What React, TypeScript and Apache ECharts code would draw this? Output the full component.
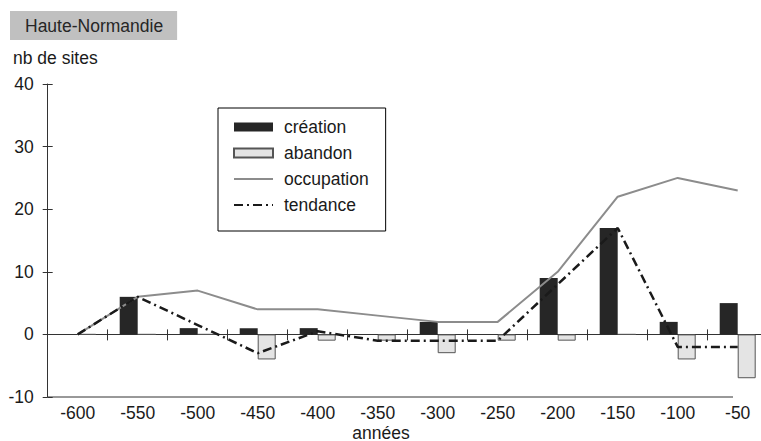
import React, { useEffect, useRef } from "react";
import * as echarts from "echarts";

const categories = ["-600", "-550", "-500", "-450", "-400", "-350", "-300", "-250", "-200", "-150", "-100", "-50"];
const creation = [0, 6, 1, 1, 1, 0, 2, 0, 9, 17, 2, 5];
const abandon = [0, 0, 0, -4, -1, -1, -3, -1, -1, 0, -4, -7];
const occupation = [0, 6, 7, 4, 4, 3, 2, 2, 10, 22, 25, 23];
const tendance = [0, 6, 1.5, -3, 0.5, -1, -1, -1, 8, 17, -2, -2];
const yMin = -10;
const yMax = 40;
const yInterval = 10;

const FONT = "'Liberation Sans', Arial, sans-serif";
const FS = 17.5;
const AXIS = "#333333";
const TXT = "#1a1a1a";

export default function App() {
  const ref = useRef<HTMLDivElement>(null);
  useEffect(() => {
    if (!ref.current) return;
    const chart = echarts.init(ref.current, null, { renderer: "svg" });
    const gridLeft = 47.7;
    const gridTop = 84;
    const gridHeight = 313;
    chart.setOption({
      animation: false,
      textStyle: { fontFamily: FONT },
      title: {
        text: "Haute-Normandie",
        left: 10,
        top: 11,
        backgroundColor: "#c0c0c0",
        padding: [6, 14, 5, 15],
        textStyle: { fontSize: FS, fontWeight: "normal", color: "#262626", fontFamily: FONT, lineHeight: 18 },
      },
      legend: {
        orient: "vertical",
        left: 218,
        top: 108,
        itemWidth: 39,
        itemHeight: 9,
        itemGap: 4,
        borderColor: "#000",
        borderWidth: 1,
        backgroundColor: "#fff",
        padding: [8, 17, 15, 15],
        textStyle: { fontSize: FS, lineHeight: 22, color: TXT, fontFamily: FONT, padding: [0, 0, 0, 6] },
        data: [
          { name: "création", icon: "rect" },
          { name: "abandon", icon: "rect" },
          { name: "occupation", itemStyle: { opacity: 0 } },
          { name: "tendance", itemStyle: { opacity: 0 } },
        ],
      },
      grid: { left: gridLeft, top: gridTop, width: 720, height: gridHeight, containLabel: false, outerBoundsMode: "none" },
      xAxis: [
        {
          type: "category",
          data: categories,
          position: "bottom",
          axisLine: { show: true, onZero: true, onZeroAxisIndex: 0, lineStyle: { color: AXIS, width: 1 } },
          axisTick: { show: true, inside: false, length: 6, lineStyle: { color: AXIS } },
          axisLabel: { show: false },
          splitLine: { show: false },
        },
        {
          type: "category",
          data: categories,
          position: "bottom",
          axisLine: { show: false, onZero: true, onZeroAxisIndex: 0 },
          axisTick: { show: true, inside: true, length: 5, lineStyle: { color: AXIS } },
          axisLabel: { show: false },
          splitLine: { show: false },
        },
        {
          type: "category",
          data: categories,
          position: "bottom",
          axisLine: { show: false, onZero: false },
          axisTick: { show: false },
          axisLabel: { show: true, fontSize: FS, color: TXT, margin: 7, fontFamily: FONT },
          splitLine: { show: false },
        },
      ],
      yAxis: [
        {
          type: "value",
          min: yMin,
          max: yMax,
          interval: yInterval,
          position: "left",
          axisLine: { show: true, onZero: false, lineStyle: { color: AXIS, width: 1 } },
          axisTick: { show: true, length: 5, lineStyle: { color: AXIS } },
          axisLabel: { fontSize: FS, color: TXT, margin: 14, fontFamily: FONT, padding: [0, 0, 4, 0] },
          splitLine: { show: false },
        },
        {
          type: "value",
          min: yMin,
          max: yMax,
          interval: yInterval,
          position: "left",
          axisLine: { show: false, onZero: false },
          axisTick: { show: true, inside: true, length: 5, lineStyle: { color: AXIS } },
          axisLabel: { show: false },
          splitLine: { show: false },
        },
      ],
      graphic: [
        {
          type: "text",
          x: 13,
          y: 58,
          style: { text: "nb de sites", fontSize: FS, fill: TXT, fontFamily: FONT, verticalAlign: "middle" },
        },
        {
          type: "text",
          x: 381,
          y: 432.5,
          style: { text: "années", fontSize: FS, fill: TXT, fontFamily: FONT, align: "center", verticalAlign: "middle" },
        },
        {
          type: "line",
          shape: { x1: gridLeft, y1: gridTop + gridHeight, x2: 733, y2: gridTop + gridHeight },
          style: { stroke: AXIS, lineWidth: 1 },
        },
      ],
      series: [
        {
          name: "création",
          type: "bar",
          xAxisIndex: 0,
          yAxisIndex: 0,
          data: creation,
          barWidth: 18,
          barGap: "0%",
          itemStyle: { color: "#262626" },
        },
        {
          name: "abandon",
          type: "bar",
          xAxisIndex: 0,
          yAxisIndex: 0,
          data: abandon,
          barWidth: 18,
          barGap: "0%",
          itemStyle: { color: "#e4e4e4", borderColor: "#555555", borderWidth: 1 },
        },
        {
          name: "occupation",
          type: "line",
          xAxisIndex: 0,
          yAxisIndex: 0,
          data: occupation,
          symbol: "none",
          lineStyle: { color: "#8c8c8c", width: 2 },
          itemStyle: { color: "#8c8c8c" },
        },
        {
          name: "tendance",
          type: "line",
          xAxisIndex: 0,
          yAxisIndex: 0,
          data: tendance,
          symbol: "none",
          lineStyle: { color: "#1a1a1a", width: 2.5, type: [9, 4, 2, 4] },
          itemStyle: { color: "#1a1a1a" },
        },
      ],
    });
    return () => chart.dispose();
  }, []);
  return (
    <div
      ref={ref}
      style={{ position: "fixed", left: 0, top: 0, width: 761, height: 441, background: "#fff" }}
    />
  );
}
